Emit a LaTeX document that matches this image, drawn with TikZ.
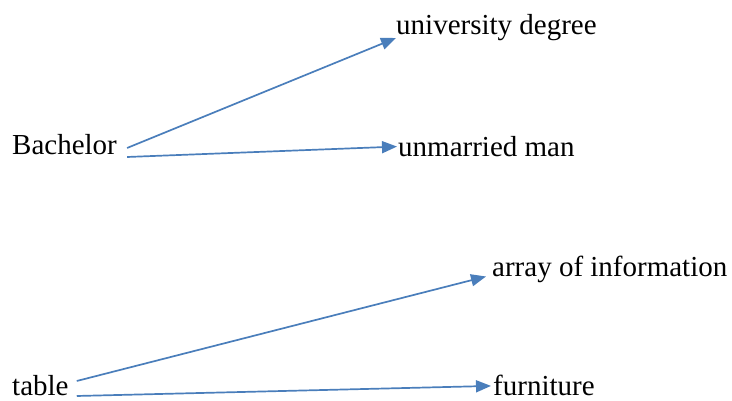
\documentclass[tikz,border=0pt]{standalone}
\usepackage{fontspec}
\setmainfont{Liberation Serif}
\usepackage{tikz}
\usetikzlibrary{arrows.meta}
\definecolor{ink}{HTML}{000000}
\definecolor{steel}{HTML}{4A7EBB}

\begin{document}
\begin{tikzpicture}[x=1pt,y=1pt,font=\fontsize{29}{31}\selectfont,
   word/.style={inner sep=0pt,anchor=base west,text=ink},
   flow/.style={-{Triangle[length=15pt,width=12pt]},draw=steel,line width=1.7pt}]
 \useasboundingbox (0,0) rectangle (732,401);
 % first word and its two senses
 \node[word] (bach) at (12,246) {Bachelor};
 \node[word] (degree) at (396,366) {university degree};
 \node[word] (man) at (398,244.5) {unmarried man};
 % second word and its two senses
 \node[word] (tbl) at (12,5) {table};
 \node[word] (info) at (492,124.5) {array of information};
 \node[word] (furn) at (493,5) {furniture};
 \draw[flow] ([shift={(10pt,7pt)}]bach.base east) -- ([yshift=-3pt]degree.base west);
 \draw[flow] ([shift={(10pt,-2pt)}]bach.base east) -- ([xshift=-1pt]man.west);
 \draw[flow] ([shift={(8pt,15pt)}]tbl.base east) -- ([xshift=-6pt]info.base west);
 \draw[flow] ([shift={(8pt,0pt)}]tbl.base east) -- ([xshift=-2pt]furn.west);
\end{tikzpicture}
\end{document}
